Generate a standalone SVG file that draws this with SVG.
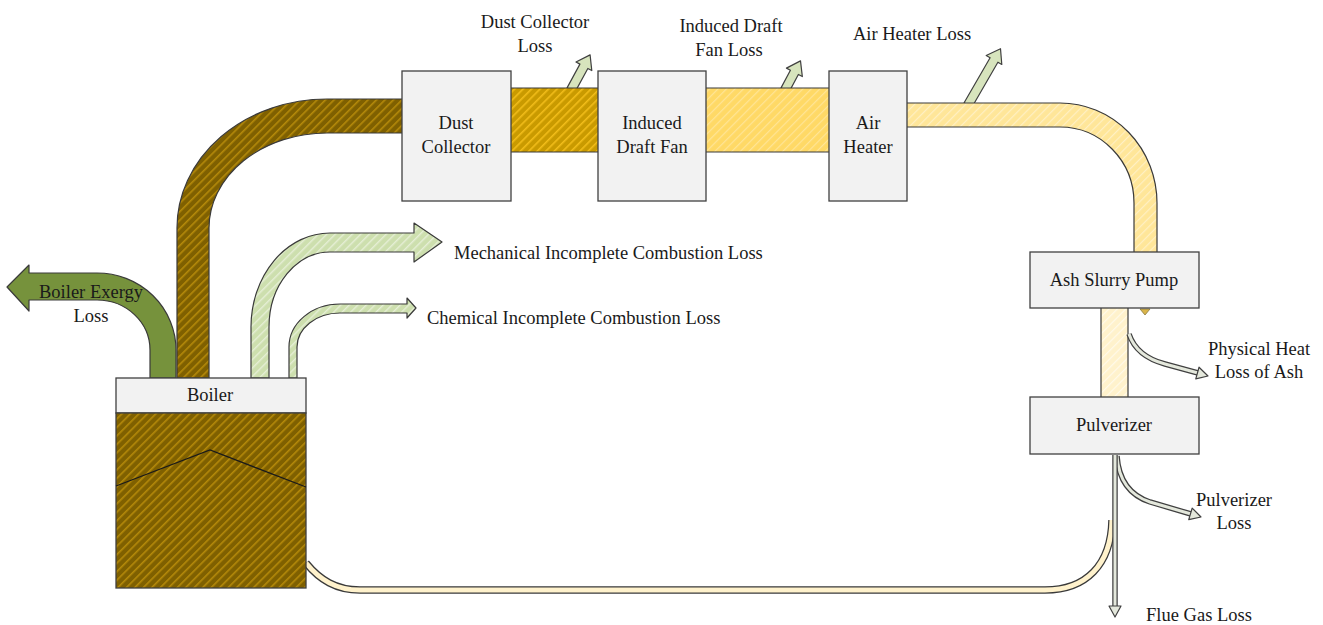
<svg xmlns="http://www.w3.org/2000/svg" width="1323" height="625" viewBox="0 0 1323 625">
<style>
.box{fill:#f2f2f2;stroke:#404040;stroke-width:1.3}
.pipe{stroke:#3a3a3a;stroke-width:1.2;stroke-linejoin:round}
.sm{fill:#d7e4bd;stroke:#404040;stroke-width:1.2;stroke-linejoin:round}
.lbl{font-family:"Liberation Serif","Times New Roman",serif;font-size:18.5px;fill:#1a1a1a;text-anchor:middle}
.lft{text-anchor:start}
.tout{fill:none;stroke:#404040;stroke-width:5.5;stroke-linecap:butt}
.tin{fill:none;stroke:#e4e8dc;stroke-width:3;stroke-linecap:butt}
.thd{fill:#e4e8dc;stroke:#404040;stroke-width:1.2;stroke-linejoin:round}
</style>
<defs>
<pattern id="pBrown" width="6" height="6" patternUnits="userSpaceOnUse" patternTransform="rotate(45)"><rect width="6" height="6" fill="#7f6000"/><rect width="1.6" height="6" fill="#b58a0a"/></pattern>
<pattern id="pGold" width="6" height="6" patternUnits="userSpaceOnUse" patternTransform="rotate(45)"><rect width="6" height="6" fill="#c99a00"/><rect width="1.6" height="6" fill="#f2bd1a"/></pattern>
<pattern id="pYel" width="6" height="6" patternUnits="userSpaceOnUse" patternTransform="rotate(45)"><rect width="6" height="6" fill="#ffd966"/><rect width="1.2" height="6" fill="#ffe597"/></pattern>
<pattern id="pLYel" width="6" height="6" patternUnits="userSpaceOnUse" patternTransform="rotate(45)"><rect width="6" height="6" fill="#ffe699"/><rect width="1.2" height="6" fill="#fff0c4"/></pattern>
<pattern id="pCream" width="6" height="6" patternUnits="userSpaceOnUse" patternTransform="rotate(45)"><rect width="6" height="6" fill="#fff2cc"/><rect width="1.2" height="6" fill="#fffaea"/></pattern>
<pattern id="pGreen" width="6" height="6" patternUnits="userSpaceOnUse" patternTransform="rotate(45)"><rect width="6" height="6" fill="#cddfae"/><rect width="1.4" height="6" fill="#e6efd6"/></pattern>
</defs>

<g id="connectors">
  <!-- small loss arrows -->
  <path class="sm" transform="translate(571,90) rotate(-61.5)" d="M0,-4.5 H27 V-9 L40,0 L27,9 V4.5 H0 Z"/>
  <path class="sm" transform="translate(785,90) rotate(-62)" d="M0,-4.5 H20 V-9 L33,0 L20,9 V4.5 H0 Z"/>
  <path class="sm" transform="translate(968,105) rotate(-60)" d="M0,-4.5 H52 V-9 L65,0 L52,9 V4.5 H0 Z"/>

  <!-- boiler exergy loss -->
  <path class="pipe" fill="#76923c" d="M176,378 V350 A79,77 0 0 0 97,273 H29 V265 L7,287 L29,311 V300 H97 A53,50 0 0 1 150,350 V378 Z"/>
  <!-- boiler to dust collector -->
  <path class="pipe" fill="url(#pBrown)" d="M177,378 V228 A150,129 0 0 1 327,99 H403 V133 H327 A118,95 0 0 0 209,228 V378 Z"/>
  <!-- mechanical -->
  <path class="pipe" fill="url(#pGreen)" d="M251,378 V327 A79,94 0 0 1 330,233 H414 V223 L442,242 L414,262 V252 H330 A61,75 0 0 0 269,327 V378 Z"/>
  <!-- chemical -->
  <path class="pipe" fill="url(#pGreen)" d="M289,378 V347 A51,43 0 0 1 340,304 H407 V298 L416,308 L407,318 V313 H340 A43,34 0 0 0 297,347 V378 Z"/>

  <!-- dust collector to ID fan -->
  <rect class="pipe" fill="url(#pGold)" x="510" y="88" width="89" height="64"/>
  <!-- ID fan to air heater -->
  <rect class="pipe" fill="url(#pYel)" x="705" y="88" width="125" height="64"/>
  <!-- air heater to ash slurry pump -->
  <path class="pipe" fill="url(#pLYel)" d="M906,103 H1060 A97,100 0 0 1 1157,203 V253 H1134 V203 A74,76 0 0 0 1060,127 H906 Z"/>
  <!-- ash slurry pump to pulverizer -->
  <rect class="pipe" fill="url(#pCream)" x="1101" y="307" width="27" height="91"/>
  <polygon points="1140,309 1150,309 1145,315" fill="#d9b44a" stroke="#8a7a40" stroke-width="0.8"/>

  <!-- bottom return pipe -->
  <path d="M306,563 C320,580 336,590 360,590 H1045 C1086,590 1111,565 1112,520" fill="none" stroke="#3a3a3a" stroke-width="7.5"/>
  <path d="M306,563 C320,580 336,590 360,590 H1045 C1086,590 1111,565 1112,520" fill="none" stroke="#fff2cc" stroke-width="5"/>

  <!-- physical heat loss of ash -->
  <path class="tout" d="M1129,334 C1135,352 1150,360 1165,364 L1198,373"/>
  <path class="tin" d="M1129,334 C1135,352 1150,360 1165,364 L1199,373.3"/>
  <polygon class="thd" transform="translate(1208,376) rotate(15.7)" points="0,0 -11,-6 -11,6"/>
  <!-- pulverizer loss -->
  <path class="tout" d="M1117,456 C1119,485 1135,497 1150,502 L1191,514"/>
  <path class="tin" d="M1117,456 C1119,485 1135,497 1150,502 L1192,514.3"/>
  <polygon class="thd" transform="translate(1201,517) rotate(16.7)" points="0,0 -11,-6 -11,6"/>
  <!-- flue gas -->
  <path class="tout" d="M1115,455 V606"/>
  <path class="tin" d="M1115,455 V607"/>
  <polygon class="thd" transform="translate(1115,617) rotate(90)" points="0,0 -11,-6 -11,6"/>
</g>

<g id="boiler">
  <rect class="box" x="116" y="378" width="190" height="35"/>
  <rect x="116" y="413" width="190" height="175" fill="url(#pBrown)" stroke="#404040" stroke-width="1.3"/>
  <polyline points="116,486 210,450 306,487" fill="none" stroke="#1a1a1a" stroke-width="1.3"/>
  <text class="lbl" x="210" y="401">Boiler</text>
</g>

<g id="dust-collector">
  <rect class="box" x="402" y="71" width="109" height="130"/>
  <text class="lbl" x="456" y="129">Dust</text>
  <text class="lbl" x="456" y="153">Collector</text>
</g>

<g id="induced-draft-fan">
  <rect class="box" x="598" y="71" width="108" height="130"/>
  <text class="lbl" x="652" y="129">Induced</text>
  <text class="lbl" x="652" y="153">Draft Fan</text>
</g>

<g id="air-heater">
  <rect class="box" x="829" y="71" width="78" height="130"/>
  <text class="lbl" x="868" y="129">Air</text>
  <text class="lbl" x="868" y="153">Heater</text>
</g>

<g id="ash-slurry-pump">
  <rect class="box" x="1030" y="252" width="169" height="56"/>
  <text class="lbl" x="1114" y="286">Ash Slurry Pump</text>
</g>

<g id="pulverizer">
  <rect class="box" x="1030" y="397" width="169" height="57"/>
  <text class="lbl" x="1114" y="431">Pulverizer</text>
</g>

<g id="labels">
  <text class="lbl" x="91" y="298">Boiler Exergy</text>
  <text class="lbl" x="91" y="322">Loss</text>
  <text class="lbl lft" x="454" y="259">Mechanical Incomplete Combustion Loss</text>
  <text class="lbl lft" x="427" y="324">Chemical Incomplete Combustion Loss</text>
  <text class="lbl" x="535" y="28">Dust Collector</text>
  <text class="lbl" x="535" y="52">Loss</text>
  <text class="lbl" x="731" y="32">Induced Draft</text>
  <text class="lbl" x="729" y="56">Fan Loss</text>
  <text class="lbl" x="912" y="40">Air Heater Loss</text>
  <text class="lbl" x="1259" y="355">Physical Heat</text>
  <text class="lbl" x="1259" y="378">Loss of Ash</text>
  <text class="lbl" x="1234" y="506">Pulverizer</text>
  <text class="lbl" x="1234" y="529">Loss</text>
  <text class="lbl" x="1199" y="621">Flue Gas Loss</text>
</g>
</svg>
